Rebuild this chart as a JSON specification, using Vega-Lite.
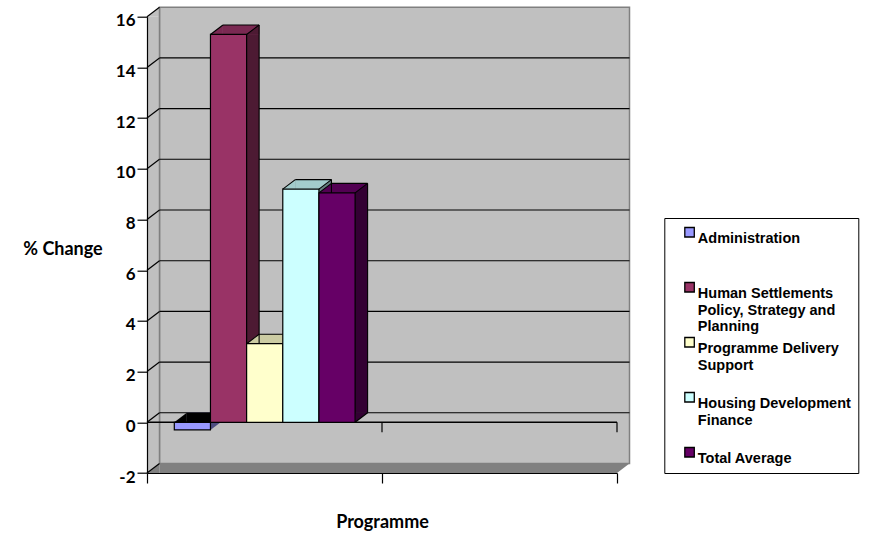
{
  "$schema": "https://vega.github.io/schema/vega-lite/v6.json",
  "width": 470,
  "height": 456.3,
  "autosize": "none",
  "padding": {"left": 147, "top": 16.7, "right": 252, "bottom": 64},
  "background": "white",
  "config": {"view": {"stroke": null}, "font": "Lato", "style": {"guide-label": {"lineHeight": 16.5}}},
  "datasets": {
    "bars": [
      {"series": "Administration", "value": -0.3},
      {"series": "Human Settlements Policy, Strategy and Planning", "value": 15.3},
      {"series": "Programme Delivery Support", "value": 3.1},
      {"series": "Housing Development Finance", "value": 9.2},
      {"series": "Total Average", "value": 9.05}
    ],
    "grid": [{"v": -2}, {"v": 0}, {"v": 2}, {"v": 4}, {"v": 6}, {"v": 8}, {"v": 10}, {"v": 12}, {"v": 14}, {"v": 16}]
  },
  "layer": [
    {
      "layer": [
        {
          "data": {"values": [{}]},
          "mark": {"type": "rect", "fill": "#c0c0c0", "stroke": "#808080", "strokeWidth": 1.5, "xOffset": 12.5, "x2Offset": 12.5, "yOffset": -9.5, "y2Offset": -9.5},
          "encoding": {
            "x": {"datum": 0, "type": "quantitative", "scale": {"domain": [0, 2], "nice": false, "zero": false},
              "axis": {"title": "Programme", "values": [0, 1, 2], "labels": false, "grid": false, "tickSize": 10, "tickColor": "#000000", "tickWidth": 1.2, "domainColor": "#000000", "domainWidth": 1.2, "titleFont": "Lato", "titleFontWeight": "bold", "titleFontSize": 18, "titleColor": "#000000", "titleX": 235, "titleY": 49, "titleBaseline": "middle", "titleAlign": "center", "zindex": 1}},
            "x2": {"datum": 2},
            "y": {"datum": 16, "type": "quantitative", "scale": {"domain": [-2, 16], "nice": false, "zero": false},
              "axis": {"title": "% Change", "values": [-2, 0, 2, 4, 6, 8, 10, 12, 14, 16], "grid": false, "tickSize": 10, "tickColor": "#000000", "tickWidth": 1.2, "domainColor": "#000000", "domainWidth": 1.2, "labelFont": "Lato", "labelFontWeight": "bold", "labelFontSize": 17, "labelColor": "#000000", "labelPadding": 2, "labelOffset": 4, "labelExpr": "'' + datum.value", "labelOverlap": false, "titleFont": "Lato", "titleFontWeight": "bold", "titleFontSize": 18, "titleColor": "#000000", "titleAngle": 0, "titleX": -84.5, "titleY": 233, "titleAlign": "center", "titleBaseline": "middle", "zindex": 1}},
            "y2": {"datum": -2}
          }
        },
        {
          "data": {"values": [{}]},
          "mark": {"type": "rect", "fill": "#c0c0c0", "x2Offset": 12.5},
          "encoding": {
            "x": {"datum": 0, "type": "quantitative", "scale": {"domain": [0, 2], "nice": false, "zero": false}},
            "x2": {"datum": 0},
            "y": {"datum": 16, "type": "quantitative", "scale": {"domain": [-2, 16], "nice": false, "zero": false}},
            "y2": {"datum": -2}
          }
        },
        {
          "data": {"values": [{}]},
          "mark": {"type": "point", "shape": "M-1,0.76L1,-0.76L1,0.76Z", "size": 156.25, "filled": true, "fill": "#c0c0c0", "strokeWidth": 0, "opacity": 1, "xOffset": 6.25, "yOffset": -4.75},
          "encoding": {
            "x": {"datum": 0, "type": "quantitative", "scale": {"domain": [0, 2], "nice": false, "zero": false}},
            "y": {"datum": 16, "type": "quantitative", "scale": {"domain": [-2, 16], "nice": false, "zero": false}}
          }
        },
        {
          "data": {"values": [{}]},
          "mark": {"type": "rect", "fill": "#808080", "xOffset": 12.5, "yOffset": -9.5},
          "encoding": {
            "x": {"datum": 0, "type": "quantitative", "scale": {"domain": [0, 2], "nice": false, "zero": false}},
            "x2": {"datum": 2},
            "y": {"datum": -2, "type": "quantitative", "scale": {"domain": [-2, 16], "nice": false, "zero": false}},
            "y2": {"datum": -2}
          }
        },
        {
          "data": {"values": [{}]},
          "mark": {"type": "point", "shape": "M-1,0.76L1,-0.76L1,0.76Z", "size": 156.25, "filled": true, "fill": "#808080", "strokeWidth": 0, "opacity": 1, "xOffset": 6.25, "yOffset": -4.75},
          "encoding": {
            "x": {"datum": 0, "type": "quantitative", "scale": {"domain": [0, 2], "nice": false, "zero": false}},
            "y": {"datum": -2, "type": "quantitative", "scale": {"domain": [-2, 16], "nice": false, "zero": false}}
          }
        },
        {
          "data": {"values": [{}]},
          "mark": {"type": "point", "shape": "M-1,0.76L-1,-0.76L1,-0.76Z", "size": 156.25, "filled": true, "fill": "#808080", "strokeWidth": 0, "opacity": 1, "xOffset": 6.25, "yOffset": -4.75},
          "encoding": {
            "x": {"datum": 2, "type": "quantitative", "scale": {"domain": [0, 2], "nice": false, "zero": false}},
            "y": {"datum": -2, "type": "quantitative", "scale": {"domain": [-2, 16], "nice": false, "zero": false}}
          }
        },
        {
          "data": {"values": [{}]},
          "mark": {"type": "rule", "stroke": "#808080", "strokeWidth": 1.5, "xOffset": 12.5, "yOffset": -9.5, "y2Offset": -9.5},
          "encoding": {
            "x": {"datum": 0, "type": "quantitative", "scale": {"domain": [0, 2], "nice": false, "zero": false}},
            "y": {"datum": 16, "type": "quantitative", "scale": {"domain": [-2, 16], "nice": false, "zero": false}},
            "y2": {"datum": -2}
          }
        },
        {
          "data": {"name": "grid"},
          "transform": [{"filter": "datum.v >= 0 && datum.v <= 14"}],
          "mark": {"type": "rule", "stroke": "#000000", "strokeWidth": 1.1, "xOffset": 12.5, "x2Offset": 12.5, "yOffset": -9.5},
          "encoding": {
            "x": {"datum": 0, "type": "quantitative", "scale": {"domain": [0, 2], "nice": false, "zero": false}},
            "x2": {"datum": 2},
            "y": {"field": "v", "type": "quantitative", "scale": {"domain": [-2, 16], "nice": false, "zero": false}}
          }
        },
        {
          "data": {"name": "grid"},
          "mark": {"type": "rule", "stroke": "#000000", "strokeWidth": 1.2, "x2Offset": 12.5, "y2Offset": -9.5},
          "encoding": {
            "x": {"datum": 0, "type": "quantitative", "scale": {"domain": [0, 2], "nice": false, "zero": false}},
            "x2": {"datum": 0},
            "y": {"field": "v", "type": "quantitative", "scale": {"domain": [-2, 16], "nice": false, "zero": false}},
            "y2": {"field": "v"}
          }
        },
        {
          "data": {"values": [{}]},
          "mark": {"type": "rule", "stroke": "#000000", "strokeWidth": 1.5},
          "encoding": {
            "x": {"datum": 0, "type": "quantitative", "scale": {"domain": [0, 2], "nice": false, "zero": false}},
            "x2": {"datum": 2},
            "y": {"datum": 0, "type": "quantitative", "scale": {"domain": [-2, 16], "nice": false, "zero": false}}
          }
        },
        {
          "data": {"values": [{}]},
          "mark": {"type": "rule", "stroke": "#000000", "strokeWidth": 1.2, "y2Offset": 10},
          "encoding": {
            "x": {"datum": 1, "type": "quantitative", "scale": {"domain": [0, 2], "nice": false, "zero": false}},
            "y": {"datum": 0, "type": "quantitative", "scale": {"domain": [-2, 16], "nice": false, "zero": false}},
            "y2": {"datum": 0}
          }
        },
        {
          "data": {"values": [{}]},
          "mark": {"type": "rule", "stroke": "#000000", "strokeWidth": 1.2, "y2Offset": 10},
          "encoding": {
            "x": {"datum": 2, "type": "quantitative", "scale": {"domain": [0, 2], "nice": false, "zero": false}},
            "y": {"datum": 0, "type": "quantitative", "scale": {"domain": [-2, 16], "nice": false, "zero": false}},
            "y2": {"datum": 0}
          }
        }
      ]
    },
    {
      "data": {"name": "bars"},
      "resolve": {"scale": {"fill": "independent"}},
      "layer": [
        {
          "mark": {"type": "bar", "opacity": 1, "xOffset": 12.5, "yOffset": -9.5, "y2Offset": -9.5},
          "encoding": {
            "x": {"field": "series", "type": "nominal", "scale": {"domain": ["Administration", "Human Settlements Policy, Strategy and Planning", "Programme Delivery Support", "Housing Development Finance", "Total Average"], "paddingInner": 0, "paddingOuter": 0, "range": [27.3, 208.1]}, "axis": null},
            "y": {"field": "value", "type": "quantitative", "scale": {"domain": [-2, 16], "nice": false, "zero": false}},
            "y2": {"datum": 0},
            "fill": {"field": "series", "type": "nominal", "scale": {"domain": ["Administration", "Human Settlements Policy, Strategy and Planning", "Programme Delivery Support", "Housing Development Finance", "Total Average"], "range": ["#4d4d80", "#4d1a33", "#808066", "#668080", "#330033"]}, "legend": null}
          }
        },
        {
          "transform": [{"filter": "datum.value >= 0"}],
          "mark": {"type": "bar", "opacity": 1, "xOffset": 12.5, "yOffset": -9.5},
          "encoding": {
            "x": {"field": "series", "type": "nominal", "scale": {"domain": ["Administration", "Human Settlements Policy, Strategy and Planning", "Programme Delivery Support", "Housing Development Finance", "Total Average"], "paddingInner": 0, "paddingOuter": 0, "range": [27.3, 208.1]}, "axis": null},
            "y": {"field": "value", "type": "quantitative", "scale": {"domain": [-2, 16], "nice": false, "zero": false}},
            "y2": {"field": "value"},
            "fill": {"field": "series", "type": "nominal", "scale": {"domain": ["Administration", "Human Settlements Policy, Strategy and Planning", "Programme Delivery Support", "Housing Development Finance", "Total Average"], "range": ["#000000", "#7a2952", "#cccca3", "#a3cccc", "#520052"]}, "legend": null}
          }
        },
        {
          "transform": [{"filter": "datum.value < 0"}],
          "mark": {"type": "bar", "opacity": 1, "xOffset": 12.5, "yOffset": -9.5},
          "encoding": {
            "x": {"field": "series", "type": "nominal", "scale": {"domain": ["Administration", "Human Settlements Policy, Strategy and Planning", "Programme Delivery Support", "Housing Development Finance", "Total Average"], "paddingInner": 0, "paddingOuter": 0, "range": [27.3, 208.1]}, "axis": null},
            "y": {"datum": 0, "type": "quantitative", "scale": {"domain": [-2, 16], "nice": false, "zero": false}},
            "y2": {"datum": 0},
            "fill": {"field": "series", "type": "nominal", "scale": {"domain": ["Administration", "Human Settlements Policy, Strategy and Planning", "Programme Delivery Support", "Housing Development Finance", "Total Average"], "range": ["#000000", "#7a2952", "#cccca3", "#a3cccc", "#520052"]}, "legend": null}
          }
        },
        {
          "transform": [{"filter": "datum.value >= 0"}],
          "mark": {"type": "point", "shape": "M-1,0.76L1,-0.76L1,0.76Z", "size": 156.25, "filled": true, "strokeWidth": 0, "opacity": 1, "xOffset": 6.25, "yOffset": -4.75},
          "encoding": {
            "x": {"field": "series", "type": "nominal", "bandPosition": 1, "scale": {"domain": ["Administration", "Human Settlements Policy, Strategy and Planning", "Programme Delivery Support", "Housing Development Finance", "Total Average"], "paddingInner": 0, "paddingOuter": 0, "range": [27.3, 208.1]}, "axis": null},
            "y": {"field": "value", "type": "quantitative", "scale": {"domain": [-2, 16], "nice": false, "zero": false}},
            "fill": {"field": "series", "type": "nominal", "scale": {"domain": ["Administration", "Human Settlements Policy, Strategy and Planning", "Programme Delivery Support", "Housing Development Finance", "Total Average"], "range": ["#4d4d80", "#4d1a33", "#808066", "#668080", "#330033"]}, "legend": null}
          }
        },
        {
          "transform": [{"filter": "datum.value < 0"}],
          "mark": {"type": "point", "shape": "M-1,0.76L1,-0.76L1,0.76Z", "size": 156.25, "filled": true, "strokeWidth": 0, "opacity": 1, "xOffset": 6.25, "yOffset": -4.75},
          "encoding": {
            "x": {"field": "series", "type": "nominal", "bandPosition": 1, "scale": {"domain": ["Administration", "Human Settlements Policy, Strategy and Planning", "Programme Delivery Support", "Housing Development Finance", "Total Average"], "paddingInner": 0, "paddingOuter": 0, "range": [27.3, 208.1]}, "axis": null},
            "y": {"datum": 0, "type": "quantitative", "scale": {"domain": [-2, 16], "nice": false, "zero": false}},
            "fill": {"field": "series", "type": "nominal", "scale": {"domain": ["Administration", "Human Settlements Policy, Strategy and Planning", "Programme Delivery Support", "Housing Development Finance", "Total Average"], "range": ["#4d4d80", "#4d1a33", "#808066", "#668080", "#330033"]}, "legend": null}
          }
        },
        {
          "transform": [{"filter": "datum.value >= 0"}],
          "mark": {"type": "point", "shape": "M-1,0.76L-1,-0.76L1,-0.76Z", "size": 156.25, "filled": true, "strokeWidth": 0, "opacity": 1, "xOffset": 6.25, "yOffset": -4.75},
          "encoding": {
            "x": {"field": "series", "type": "nominal", "bandPosition": 1, "scale": {"domain": ["Administration", "Human Settlements Policy, Strategy and Planning", "Programme Delivery Support", "Housing Development Finance", "Total Average"], "paddingInner": 0, "paddingOuter": 0, "range": [27.3, 208.1]}, "axis": null},
            "y": {"datum": 0, "type": "quantitative", "scale": {"domain": [-2, 16], "nice": false, "zero": false}},
            "fill": {"field": "series", "type": "nominal", "scale": {"domain": ["Administration", "Human Settlements Policy, Strategy and Planning", "Programme Delivery Support", "Housing Development Finance", "Total Average"], "range": ["#4d4d80", "#4d1a33", "#808066", "#668080", "#330033"]}, "legend": null}
          }
        },
        {
          "transform": [{"filter": "datum.value < 0"}],
          "mark": {"type": "point", "shape": "M-1,0.76L-1,-0.76L1,-0.76Z", "size": 156.25, "filled": true, "strokeWidth": 0, "opacity": 1, "xOffset": 6.25, "yOffset": -4.75},
          "encoding": {
            "x": {"field": "series", "type": "nominal", "bandPosition": 1, "scale": {"domain": ["Administration", "Human Settlements Policy, Strategy and Planning", "Programme Delivery Support", "Housing Development Finance", "Total Average"], "paddingInner": 0, "paddingOuter": 0, "range": [27.3, 208.1]}, "axis": null},
            "y": {"field": "value", "type": "quantitative", "scale": {"domain": [-2, 16], "nice": false, "zero": false}},
            "fill": {"field": "series", "type": "nominal", "scale": {"domain": ["Administration", "Human Settlements Policy, Strategy and Planning", "Programme Delivery Support", "Housing Development Finance", "Total Average"], "range": ["#4d4d80", "#4d1a33", "#808066", "#668080", "#330033"]}, "legend": null}
          }
        },
        {
          "transform": [{"filter": "datum.value >= 0"}],
          "mark": {"type": "point", "shape": "M-1,0.76L1,-0.76L1,0.76Z", "size": 156.25, "filled": true, "strokeWidth": 0, "opacity": 1, "xOffset": 6.25, "yOffset": -4.75},
          "encoding": {
            "x": {"field": "series", "type": "nominal", "bandPosition": 0, "scale": {"domain": ["Administration", "Human Settlements Policy, Strategy and Planning", "Programme Delivery Support", "Housing Development Finance", "Total Average"], "paddingInner": 0, "paddingOuter": 0, "range": [27.3, 208.1]}, "axis": null},
            "y": {"field": "value", "type": "quantitative", "scale": {"domain": [-2, 16], "nice": false, "zero": false}},
            "fill": {"field": "series", "type": "nominal", "scale": {"domain": ["Administration", "Human Settlements Policy, Strategy and Planning", "Programme Delivery Support", "Housing Development Finance", "Total Average"], "range": ["#000000", "#7a2952", "#cccca3", "#a3cccc", "#520052"]}, "legend": null}
          }
        },
        {
          "transform": [{"filter": "datum.value < 0"}],
          "mark": {"type": "point", "shape": "M-1,0.76L1,-0.76L1,0.76Z", "size": 156.25, "filled": true, "strokeWidth": 0, "opacity": 1, "xOffset": 6.25, "yOffset": -4.75},
          "encoding": {
            "x": {"field": "series", "type": "nominal", "bandPosition": 0, "scale": {"domain": ["Administration", "Human Settlements Policy, Strategy and Planning", "Programme Delivery Support", "Housing Development Finance", "Total Average"], "paddingInner": 0, "paddingOuter": 0, "range": [27.3, 208.1]}, "axis": null},
            "y": {"datum": 0, "type": "quantitative", "scale": {"domain": [-2, 16], "nice": false, "zero": false}},
            "fill": {"field": "series", "type": "nominal", "scale": {"domain": ["Administration", "Human Settlements Policy, Strategy and Planning", "Programme Delivery Support", "Housing Development Finance", "Total Average"], "range": ["#000000", "#7a2952", "#cccca3", "#a3cccc", "#520052"]}, "legend": null}
          }
        },
        {
          "transform": [{"filter": "datum.value >= 0"}],
          "mark": {"type": "rule", "stroke": "#000000", "strokeWidth": 1.1, "xOffset": 12.5, "x2Offset": 12.5, "yOffset": -9.5},
          "encoding": {
            "x": {"field": "series", "type": "nominal", "bandPosition": 0, "scale": {"domain": ["Administration", "Human Settlements Policy, Strategy and Planning", "Programme Delivery Support", "Housing Development Finance", "Total Average"], "paddingInner": 0, "paddingOuter": 0, "range": [27.3, 208.1]}, "axis": null},
            "x2": {"field": "series", "bandPosition": 1},
            "y": {"field": "value", "type": "quantitative", "scale": {"domain": [-2, 16], "nice": false, "zero": false}}
          }
        },
        {
          "transform": [{"filter": "datum.value >= 0"}],
          "mark": {"type": "rule", "stroke": "#000000", "strokeWidth": 1.1, "xOffset": 12.5, "yOffset": -9.5, "y2Offset": -9.5},
          "encoding": {
            "x": {"field": "series", "type": "nominal", "bandPosition": 1, "scale": {"domain": ["Administration", "Human Settlements Policy, Strategy and Planning", "Programme Delivery Support", "Housing Development Finance", "Total Average"], "paddingInner": 0, "paddingOuter": 0, "range": [27.3, 208.1]}, "axis": null},
            "y": {"field": "value", "type": "quantitative", "scale": {"domain": [-2, 16], "nice": false, "zero": false}},
            "y2": {"datum": 0}
          }
        },
        {
          "transform": [{"filter": "datum.value >= 0"}],
          "mark": {"type": "rule", "stroke": "#000000", "strokeWidth": 1.1, "x2Offset": 12.5, "y2Offset": -9.5},
          "encoding": {
            "x": {"field": "series", "type": "nominal", "bandPosition": 0, "scale": {"domain": ["Administration", "Human Settlements Policy, Strategy and Planning", "Programme Delivery Support", "Housing Development Finance", "Total Average"], "paddingInner": 0, "paddingOuter": 0, "range": [27.3, 208.1]}, "axis": null},
            "x2": {"field": "series", "bandPosition": 0},
            "y": {"field": "value", "type": "quantitative", "scale": {"domain": [-2, 16], "nice": false, "zero": false}},
            "y2": {"field": "value"}
          }
        },
        {
          "transform": [{"filter": "datum.value >= 0"}],
          "mark": {"type": "rule", "stroke": "#000000", "strokeWidth": 1.1, "x2Offset": 12.5, "y2Offset": -9.5},
          "encoding": {
            "x": {"field": "series", "type": "nominal", "bandPosition": 1, "scale": {"domain": ["Administration", "Human Settlements Policy, Strategy and Planning", "Programme Delivery Support", "Housing Development Finance", "Total Average"], "paddingInner": 0, "paddingOuter": 0, "range": [27.3, 208.1]}, "axis": null},
            "x2": {"field": "series", "bandPosition": 1},
            "y": {"field": "value", "type": "quantitative", "scale": {"domain": [-2, 16], "nice": false, "zero": false}},
            "y2": {"field": "value"}
          }
        },
        {
          "transform": [{"filter": "datum.value >= 0"}],
          "mark": {"type": "rule", "stroke": "#000000", "strokeWidth": 1.1, "x2Offset": 12.5, "y2Offset": -9.5},
          "encoding": {
            "x": {"field": "series", "type": "nominal", "bandPosition": 1, "scale": {"domain": ["Administration", "Human Settlements Policy, Strategy and Planning", "Programme Delivery Support", "Housing Development Finance", "Total Average"], "paddingInner": 0, "paddingOuter": 0, "range": [27.3, 208.1]}, "axis": null},
            "x2": {"field": "series", "bandPosition": 1},
            "y": {"datum": 0, "type": "quantitative", "scale": {"domain": [-2, 16], "nice": false, "zero": false}},
            "y2": {"datum": 0}
          }
        },
        {
          "mark": {"type": "bar", "opacity": 1, "stroke": "#000000", "strokeWidth": 1.2},
          "encoding": {
            "x": {"field": "series", "type": "nominal", "scale": {"domain": ["Administration", "Human Settlements Policy, Strategy and Planning", "Programme Delivery Support", "Housing Development Finance", "Total Average"], "paddingInner": 0, "paddingOuter": 0, "range": [27.3, 208.1]}, "axis": null},
            "y": {"field": "value", "type": "quantitative", "scale": {"domain": [-2, 16], "nice": false, "zero": false}},
            "y2": {"datum": 0},
            "fill": {"field": "series", "type": "nominal", "scale": {"domain": ["Administration", "Human Settlements Policy, Strategy and Planning", "Programme Delivery Support", "Housing Development Finance", "Total Average"], "range": ["#9999ff", "#993366", "#ffffcc", "#ccffff", "#660066"]},
              "legend": {"orient": "none", "legendX": 517.3, "legendY": 201.3, "title": null, "strokeColor": "#000000", "fillColor": "#ffffff", "padding": 7, "symbolType": "square", "symbolSize": 90, "symbolStrokeColor": "#000000", "symbolStrokeWidth": 1.3, "symbolOffset": 11, "labelOffset": 1, "labelFont": "Liberation Sans", "labelFontWeight": "bold", "labelFontSize": 14.5, "labelColor": "#000000", "labelBaseline": "top", "labelLimit": 400, "rowPadding": 0,
                "labelExpr": "datum.label == 'Administration' ? ['Administration', '', ''] : datum.label == 'Human Settlements Policy, Strategy and Planning' ? ['Human Settlements', 'Policy, Strategy and', 'Planning'] : datum.label == 'Programme Delivery Support' ? ['Programme Delivery', 'Support', ''] : datum.label == 'Housing Development Finance' ? ['Housing Development', 'Finance', ''] : datum.label",
                "encode": {"legend": {"strokeWidth": {"value": 1.5}}}}}
          }
        }
      ]
    }
  ],
  "resolve": {"scale": {"x": "independent"}}
}
